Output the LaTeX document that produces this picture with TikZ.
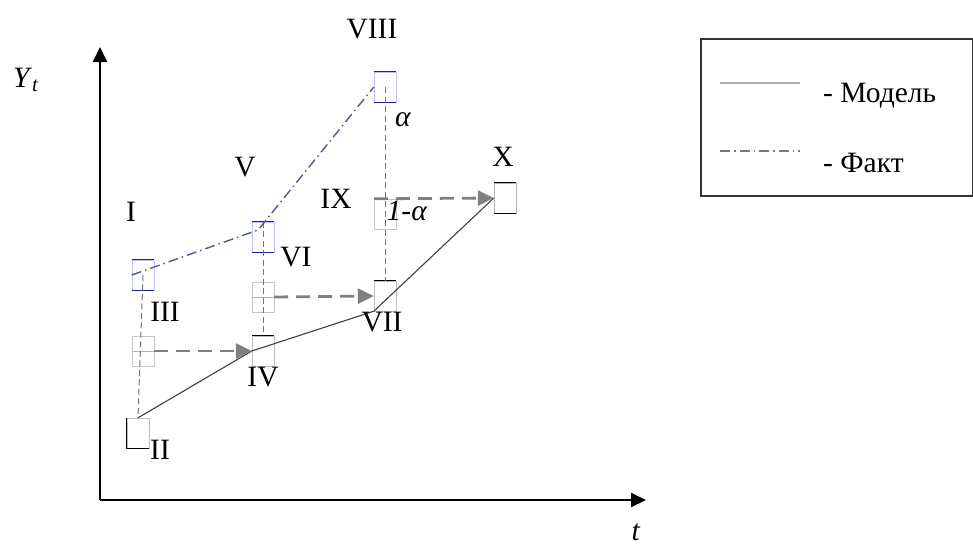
\documentclass[tikz,border=0pt]{standalone}
\usepackage{fontspec}
\setmainfont{Liberation Serif}
\usetikzlibrary{arrows.meta,positioning,calc}
\definecolor{factcol}{RGB}{80,92,140}
\definecolor{boxblue}{RGB}{30,30,150}

\begin{document}
\begin{tikzpicture}[
  x=1pt, y=-1pt,
  lbl/.style={font=\fontsize{29.5}{32}\selectfont, inner sep=0pt},
  cell/.style={draw=#1, minimum width=22pt, minimum height=30pt, inner sep=0pt},
  cell/.default=gray!45,
  axis/.style={-{Triangle[length=15pt, width=14pt]}, line width=2pt},
  model/.style={line width=1.1pt, black!75},
  fact/.style={line width=1.4pt, factcol,
               dash pattern=on 10pt off 4pt on 1.5pt off 4pt},
  vline/.style={black!55, line width=1pt, dash pattern=on 6pt off 3.5pt},
  move/.style={-{Triangle[length=16pt, width=15pt]}, gray, line width=2.8pt,
                dash pattern=on 14pt off 8pt},
]
\useasboundingbox (0,0) rectangle (973,546);

% ---- axes --------------------------------------------------------------------
\coordinate (O) at (100,500);
\coordinate (ytip) at (100,47);
\coordinate (ttip) at (646,500);
\draw[axis] (O) -- (ytip);
\draw[axis] (O) -- (ttip);
\node[lbl] (ylab) at (26,80) {\textit{Y}\textsubscript{\textit{t}}};
\node[lbl] (tlab) at (636,532) {\textit{t}};

% ---- cells, one column per period -------------------------------------------
\node[cell=blue!25]  (fact1) at (143,275) {};
\node[cell]          (mid1)  at (143,351) {};
\node[cell=black!25] (mod1)  at (138,433) {};

\node[cell=blue!25]  (fact2) at (263,237) {};
\node[cell]          (mid2)  at (263,297) {};
\node[cell=black!25] (mod2)  at (263,351) {};

\node[cell=blue!25]  (fact3) at (385,87)  {};
\node[cell]          (mid3)  at (385,214) {};
\node[cell=black!25] (mod3)  at (385,296) {};

\node[cell=black!30] (modX)  at (505,198) {};

% dark edges of the cells
\foreach \b in {fact1,fact2,fact3}
  \draw[boxblue, line width=1pt] (\b.north west) -- (\b.north east)
                                 (\b.south west) -- (\b.south east);
\foreach \b in {mod2,mod3}
  \draw[line width=1pt] (\b.north west) -- (\b.north east);
\draw[line width=1pt] (modX.north west) -- (modX.north east)
                      (modX.south west) -- (modX.south east);
\draw[line width=1pt] (mod1.north west) -- (mod1.south west) -- (mod1.south east);

% cross bars of the intermediate cells
\foreach \b in {mid1,mid2}
  \draw[gray!60, line width=1pt] (\b.west) -- (\b.east);

% ---- vertical links ----------------------------------------------------------
\draw[vline] (fact1.center) -- (mod1.north);
\draw[vline] (fact2.north)  -- (mod2.north);
\draw[vline] (fact3.center) -- (mod3.north);

% ---- model and fact --------------------------------------------------------
\draw[model] (mod1.north) -- (mod2.west) -- (mod3.south west) -- (modX.west);
\draw[fact] (fact1.west) -- ($(fact2.center)+(-5,-7)$) -- (fact3.west);

% ---- shifts to the next period ----------------------------------------------
\draw[move] (mid1.east) -- (mod2.west);
\draw[move] (mid2.east) -- (mod3.west);
\draw[move] (mid3.north west) -- (modX.west);

% ---- point labels ------------------------------------------------------------
\node[lbl] (lI)    at (131,212) {I};
\node[lbl] (lII)   at (160,450) {II};
\node[lbl] (lIII)  at (165,312) {III};
\node[lbl] (lIV)   at (263,377) {IV};
\node[lbl] (lV)    at (245,167) {V};
\node[lbl] (lVI)   at (296,257) {VI};
\node[lbl] (lVII)  at (382,322) {VII};
\node[lbl] (lVIII) at (372,29)  {VIII};
\node[lbl] (lIX)   at (336,199) {IX};
\node[lbl] (lX)    at (503,157) {X};
\node[lbl] (alpha) at (403,120) {\textit{α}};
\node[lbl] (malpha) at (407,211) {\textit{1-α}};

% ---- legend ------------------------------------------------------------------
\node[draw=black!80, line width=1.5pt, minimum width=272pt, minimum height=157pt,
      anchor=north west, inner sep=0pt] (legend) at (700,38) {};
\coordinate (m0) at (720,83);
\coordinate (m1) at (800,83);
\coordinate (f0) at (720,151);
\coordinate (f1) at (800,151);
\draw[gray!65, line width=2.2pt] (m0) -- (m1);
\draw[fact, gray!80!factcol, line width=2.2pt] (f0) -- (f1);
\node[lbl, anchor=west] (lmodel) at (823,96)  {- Модель};
\node[lbl, anchor=west] (lfact)  at (823,163) {- Факт};
\end{tikzpicture}
\end{document}
